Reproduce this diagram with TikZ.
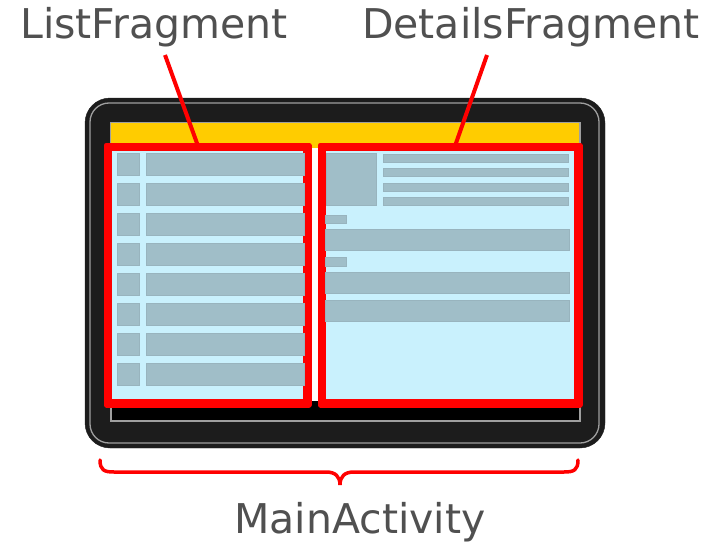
\documentclass[tikz,border=0pt]{standalone}
\usepackage{fontspec}
\setmainfont{DejaVu Sans}
\usepackage{tikz}
\definecolor{tabletgray}{HTML}{1C1C1C}
\definecolor{screenblue}{HTML}{C9F1FD}
\definecolor{bargray}{HTML}{A0BEC8}
\definecolor{barline}{HTML}{98B4BE}
\definecolor{toolbar}{HTML}{FFCC00}
\definecolor{labelgray}{HTML}{505050}
\tikzset{
  bigtext/.style={text=labelgray, inner sep=0pt, anchor=base, font=\fontsize{41}{49}\selectfont},
  redline/.style={red, line width=4pt},
  fragbox/.style={draw=red, fill=screenblue, line width=5.5pt, line join=round},
  bar/.style={fill=bargray, draw=barline, line width=0.4pt}
}

\begin{document}
\begin{tikzpicture}[x=1pt,y=-1pt]
     \useasboundingbox (0,0) rectangle (723,543);                                           % page size
     \draw [fill=tabletgray, draw=tabletgray, rounded corners=25pt] (85,98) rectangle (605,448);   % tablet body
     \draw [gray!75, line width=1.3pt, rounded corners=19pt] (90,103) rectangle (599,443);
     \fill [black] (111,123) rectangle (580,421);                                           % screen
     \draw [gray!75, line width=1.3pt] (111,123) rectangle (580,421);
     \fill [toolbar] (111,123) rectangle (579,148);                                         % action bar
     \fill [white] (306,148) rectangle (323,401);
     \fill [screenblue] (306,148) rectangle (309,401);
     \fill [screenblue] (320,148) rectangle (323,401);
     % list fragment
     \node [fragbox, minimum width=197pt, minimum height=254pt] (list) at (207.5,275) {};
     \foreach \i in {0,...,7} {
         \draw [bar] (117,153+30*\i) rectangle (139,175+30*\i);
         \draw [bar] (146,153+30*\i) rectangle (304,175+30*\i);
     }
     \draw [red, line width=5.5pt, line join=round] (list.north west) rectangle (list.south east);
     % details fragment
     \node [fragbox, minimum width=254pt, minimum height=254pt] (details) at (450,275) {};
     \draw [bar] (326,153) rectangle (376,205);                                             % picture
     \foreach \y in {154,168.5,183,197}
         \draw [bar] (383,\y) rectangle (568,\y+8);
     \draw [bar] (325,215) rectangle (346,223);
     \draw [bar] (325,229) rectangle (569,250);
     \draw [bar] (325,257) rectangle (346,266);
     \draw [bar] (325,272) rectangle (569,293);
     \draw [bar] (325,300) rectangle (569,321);
     \draw [red, line width=5.5pt, line join=round] (details.north west) rectangle (details.south east);
     % labels
     \node [bigtext] (listlabel) at (154,39) {ListFragment};
     \node [bigtext] (detailslabel) at (531,39) {DetailsFragment};
     \node [bigtext] (mainlabel) at (360,533) {MainActivity};
     \coordinate (listfoot) at (165,55);
     \coordinate (listtop) at (198,146);
     \coordinate (detailsfoot) at (487,55);
     \coordinate (detailstop) at (455,146);
     \draw [redline] (listfoot) -- (listtop);
     \draw [redline] (detailsfoot) -- (detailstop);
     \draw [red, line width=3.5pt, line cap=round]                                          % brace
         (100,460) .. controls (100,470) and (104,472) .. (114,472) -- (326,472)
         .. controls (335,472) and (340,476) .. (340,485)
         .. controls (340,476) and (345,472) .. (354,472) -- (564,472)
         .. controls (574,472) and (578,470) .. (578,460);
\end{tikzpicture}
\end{document}
